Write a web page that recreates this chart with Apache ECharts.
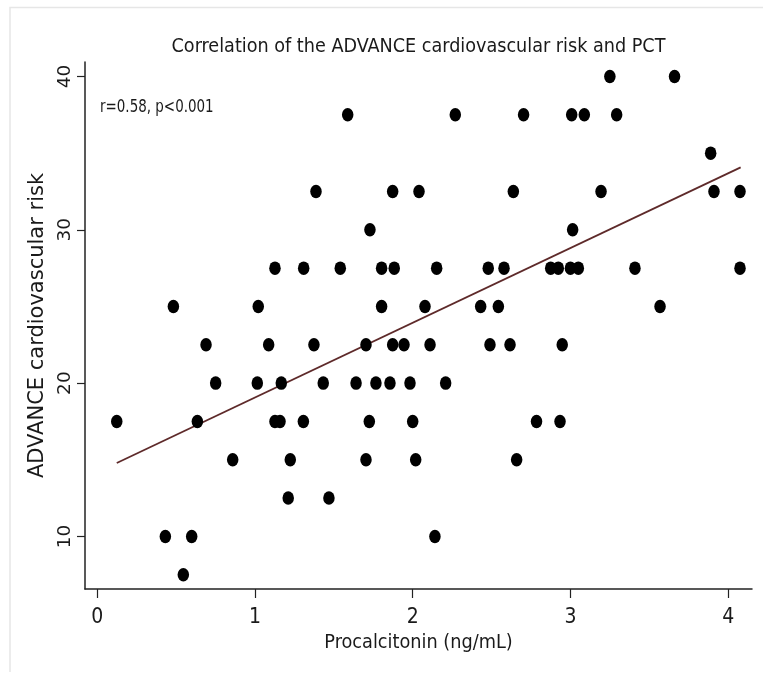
<!DOCTYPE html>
<html>
<head>
<meta charset="utf-8">
<script src="https://cdn.jsdelivr.net/npm/echarts@6/dist/echarts.min.js"></script>
<style>
html,body{margin:0;padding:0;background:#fff;}
#chart{width:763px;height:679px;}
</style>
</head>
<body>
<div id="chart"></div>
<script>
// ---- data ----
const titleText = 'Correlation of the ADVANCE cardiovascular risk and PCT';
const xAxisName = 'Procalcitonin (ng/mL)';
const yAxisName = 'ADVANCE cardiovascular risk';
const statText = 'r=0.58, p<0.001';
const xTicks = [0, 1, 2, 3, 4];
const yTicks = [10, 20, 30, 40];

const pct = [
  3.25, 3.66,
  1.588, 2.27, 2.703, 3.008, 3.088, 3.293,
  3.889,
  1.387, 1.873, 2.04, 2.638, 3.194, 3.91, 4.075,
  1.729, 3.014,
  1.127, 1.309, 1.541, 1.803, 1.883, 2.152, 2.479, 2.579, 2.875, 2.923, 3.0, 3.05, 3.409, 4.075,
  0.483, 1.021, 1.803, 2.078, 2.431, 2.543, 3.568,
  0.69, 1.087, 1.374, 1.704, 1.873, 1.945, 2.11, 2.49, 2.617, 2.948,
  0.751, 1.015, 1.167, 1.433, 1.641, 1.767, 1.856, 1.983, 2.209,
  0.124, 0.635, 1.127, 1.159, 1.307, 1.725, 2.0, 2.785, 2.934,
  0.859, 1.224, 1.704, 2.019, 2.659,
  1.211, 1.469,
  0.432, 0.599, 2.141,
  0.546
];
const risk = [
  40, 40,
  37.5, 37.5, 37.5, 37.5, 37.5, 37.5,
  35,
  32.5, 32.5, 32.5, 32.5, 32.5, 32.5, 32.5,
  30, 30,
  27.5, 27.5, 27.5, 27.5, 27.5, 27.5, 27.5, 27.5, 27.5, 27.5, 27.5, 27.5, 27.5, 27.5,
  25, 25, 25, 25, 25, 25, 25,
  22.5, 22.5, 22.5, 22.5, 22.5, 22.5, 22.5, 22.5, 22.5, 22.5,
  20, 20, 20, 20, 20, 20, 20, 20, 20,
  17.5, 17.5, 17.5, 17.5, 17.5, 17.5, 17.5, 17.5, 17.5,
  15, 15, 15, 15, 15,
  12.5, 12.5,
  10, 10, 10,
  7.5
];
// fitted regression line end points
const fitX = [0.124, 4.079];
const fitY = [14.79, 34.07];

// ---- chart ----
const narrow = '"DejaVu Sans Condensed", "Liberation Sans Narrow", "Arial Narrow", sans-serif';
const regular = '"DejaVu Sans", Arial, sans-serif';
const points = pct.map((v, i) => [v, risk[i]]);
const fitLine = fitX.map((v, i) => [v, fitY[i]]);

const chart = echarts.init(document.getElementById('chart'), null, {renderer: 'canvas'});
chart.setOption({
  animation: false,
  backgroundColor: '#ffffff',
  title: {
    text: titleText,
    left: 418.5,
    textAlign: 'center',
    top: 37,
    padding: 0,
    textStyle: {fontFamily: narrow, fontSize: 19.6, fontWeight: 'normal', color: '#1a1a1a'}
  },
  grid: {left: 85, right: 11, top: 62, bottom: 90, containLabel: false},
  xAxis: {
    type: 'value',
    min: -0.0773,
    max: 4.151,
    splitLine: {show: false},
    axisLine: {show: true, onZero: false, lineStyle: {color: '#222', width: 1.5}},
    axisTick: {show: true, length: 9, customValues: xTicks, lineStyle: {color: '#222', width: 1.2}},
    axisLabel: {customValues: xTicks, margin: 18, fontFamily: narrow, fontSize: 21, color: '#1a1a1a'},
    name: xAxisName,
    nameLocation: 'middle',
    nameGap: 35.5,
    nameTextStyle: {fontFamily: narrow, fontSize: 19.7, color: '#1a1a1a'}
  },
  yAxis: {
    type: 'value',
    min: 6.571,
    max: 40.945,
    splitLine: {show: false},
    axisLine: {show: true, onZero: false, lineStyle: {color: '#222', width: 1.5}},
    axisTick: {show: true, length: 8, customValues: yTicks, lineStyle: {color: '#222', width: 1.2}},
    axisLabel: {customValues: yTicks, rotate: 90, margin: 10, fontFamily: regular, fontSize: 18.5, color: '#1a1a1a'},
    name: yAxisName,
    nameLocation: 'middle',
    nameGap: 18,
    nameTextStyle: {fontFamily: regular, fontSize: 21, color: '#1a1a1a'}
  },
  graphic: [
    {type: 'polyline', silent: true, z: -1,
     shape: {points: [[10, 672], [10, 7.5], [763, 7.5]]},
     style: {stroke: '#e6e6e6', lineWidth: 1.5, fill: null}},
    {type: 'text', x: 100, y: 108, scaleX: 0.88,
     style: {text: statText, fontFamily: narrow, fontSize: 17, fill: '#1a1a1a', verticalAlign: 'middle', align: 'left'}}
  ],
  series: [
    {
      type: 'scatter',
      data: points,
      symbol: 'circle',
      symbolSize: [11.5, 13.5],
      itemStyle: {color: '#000000', opacity: 1},
      z: 3
    },
    {
      type: 'line',
      data: fitLine,
      symbol: 'none',
      lineStyle: {color: '#5e2a2a', width: 1.8},
      z: 2
    }
  ]
});
</script>
</body>
</html>
